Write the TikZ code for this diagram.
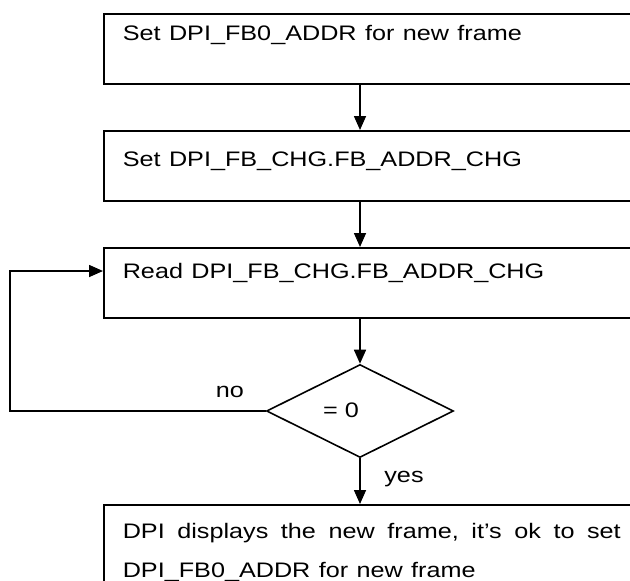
\documentclass[tikz,border=0pt]{standalone}
\usepackage{fontspec}
\usepackage{graphicx}
\setmainfont{Liberation Sans}
\usetikzlibrary{shapes.geometric,arrows.meta}
\newcommand{\widetxt}[1]{\scalebox{1.2}[1]{#1}}
\begin{document}
\begin{tikzpicture}[x=1pt,y=-1pt,
  line width=1.6pt,
  arr/.style={-{Triangle[length=14pt,width=12pt]}},
  box/.style={draw, anchor=north west, minimum width=537pt, inner xsep=19pt,
    inner ysep=0pt, text width=499pt, align=left,
    font=\fontsize{21pt}{39pt}\selectfont},
  lbl/.style={font=\fontsize{21pt}{25pt}\selectfont, inner sep=0pt, anchor=base}]
\clip (0,0) rectangle (630,581);
\fill[white] (0,0) rectangle (630,581);
\node[box, text height=27pt, text depth=43pt] (b1) at (103,13) {\widetxt{Set DPI\_FB0\_ADDR for new frame}};
\node[box, text height=36pt, text depth=34pt] (b2) at (103,130) {\widetxt{Set DPI\_FB\_CHG.FB\_ADDR\_CHG}};
\node[box, text height=31pt, text depth=39pt] (b3) at (103,247) {\widetxt{Read DPI\_FB\_CHG.FB\_ADDR\_CHG}};
\node[draw, diamond, minimum width=187pt, minimum height=93pt, inner sep=0pt] (d) at (360,411) {};
\node[lbl] (eq) at (341,417) {\widetxt{= 0}};
\node[box, text height=34pt, text depth=90pt] (b4) at (103,504)
  {\widetxt{\hbox to 415pt{DPI \hfill displays \hfill the \hfill new \hfill frame, \hfill it’s \hfill ok \hfill to \hfill set}}\\\widetxt{DPI\_FB0\_ADDR for new frame}};
\coordinate (lp) at (10,271);
\draw[arr] (b1.south -| d.north) -- (b2.north -| d.north);
\draw[arr] (b2.south -| d.north) -- (b3.north -| d.north);
\draw[arr] (b3.south -| d.north) -- (d.north);
\draw[arr] (d.south) -- (b4.north -| d.south);
\draw[arr] (d.west) -| (lp) -- (lp -| b3.west);
\node[lbl] (no) at (230,397) {\widetxt{no}};
\node[lbl] (yes) at (404,482) {\widetxt{yes}};
\end{tikzpicture}
\end{document}
